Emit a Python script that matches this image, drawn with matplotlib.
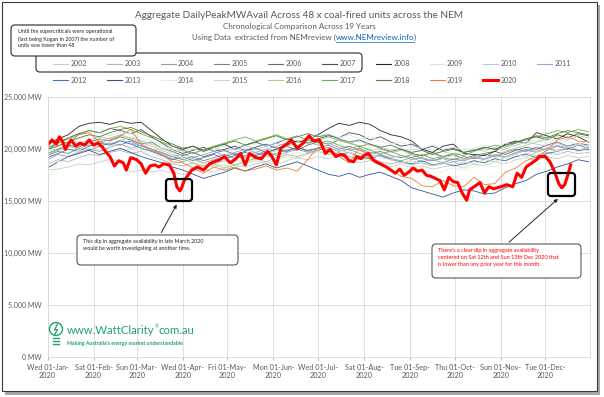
import numpy as np
import pandas as pd
import matplotlib
matplotlib.use('Agg')
import matplotlib.pyplot as plt
from matplotlib.patches import FancyBboxPatch, Rectangle, Circle, FancyArrowPatch
from matplotlib.lines import Line2D
from matplotlib.transforms import Affine2D

plt.rcParams['font.family'] = ['Lato', 'DejaVu Sans']

W, H = 604, 397

# weekly samples from 01-Jan, values in hundreds of MW
s2002 = [180, 181, 183, 186, 185, 188, 190, 189, 178, 180, 178, 180, 177, 176, 179, 181, 178, 182, 185, 183,
         186, 188, 185, 189, 192, 190, 193, 191, 194, 190, 187, 189, 185, 183, 186, 182, 184, 181, 183, 185,
         182, 186, 184, 188, 186, 190, 192, 189, 193, 191, 194, 192, 193]
s2003 = [186, 190, 188, 192, 195, 194, 197, 199, 196, 198, 193, 190, 186, 184, 187, 183, 186, 189, 185, 188,
         191, 188, 192, 195, 193, 196, 198, 195, 197, 193, 190, 192, 188, 186, 188, 185, 187, 184, 186, 188,
         185, 189, 187, 191, 189, 193, 196, 194, 197, 195, 198, 196, 197]
s2004 = [190, 195, 193, 197, 200, 198, 202, 205, 201, 204, 199, 195, 191, 188, 191, 187, 190, 193, 196, 192,
         195, 198, 194, 197, 200, 197, 199, 202, 198, 200, 196, 193, 195, 191, 189, 192, 188, 190, 187, 191,
         189, 192, 190, 194, 192, 196, 199, 197, 201, 198, 202, 199, 200]
s2005 = [194, 198, 196, 201, 199, 203, 206, 204, 208, 203, 200, 197, 193, 190, 193, 189, 192, 195, 191, 194,
         197, 193, 196, 199, 202, 198, 201, 204, 200, 203, 199, 196, 198, 194, 192, 195, 191, 189, 192, 190,
         193, 191, 195, 193, 197, 200, 198, 202, 199, 203, 200, 204, 201]
s2006 = [196, 200, 204, 202, 207, 210, 208, 212, 209, 205, 207, 201, 198, 194, 197, 193, 196, 199, 195, 198,
         201, 197, 200, 203, 199, 204, 207, 205, 209, 206, 203, 205, 201, 198, 200, 196, 194, 197, 193, 195,
         191, 194, 196, 198, 195, 199, 202, 200, 204, 207, 203, 206, 204]
s2007 = [200, 206, 211, 215, 218, 216, 220, 218, 215, 219, 212, 206, 200, 196, 199, 202, 198, 200, 203, 199,
         202, 205, 201, 204, 208, 206, 210, 213, 211, 216, 214, 209, 212, 207, 203, 205, 200, 203, 199, 201,
         197, 199, 202, 200, 204, 206, 210, 212, 209, 214, 211, 215, 213]
s2008 = [205, 210, 214, 222, 225, 226, 224, 227, 225, 226, 218, 210, 203, 200, 203, 198, 202, 205, 200, 204,
         207, 203, 206, 210, 207, 209, 214, 220, 225, 223, 226, 224, 218, 214, 212, 208, 200, 197, 203, 205,
         196, 195, 194, 198, 205, 208, 206, 216, 213, 210, 215, 212, 207]
s2009 = [205, 208, 212, 210, 214, 216, 213, 217, 215, 211, 208, 204, 200, 198, 201, 197, 200, 203, 199, 202,
         206, 203, 207, 210, 212, 209, 213, 215, 211, 214, 210, 212, 208, 205, 207, 203, 201, 204, 200, 202,
         199, 201, 204, 202, 206, 203, 207, 209, 206, 210, 207, 205, 208]
s2010 = [200, 204, 207, 205, 209, 212, 210, 214, 211, 208, 205, 201, 197, 199, 196, 199, 202, 198, 201, 204,
         200, 203, 206, 203, 207, 211, 209, 212, 209, 206, 208, 204, 202, 199, 201, 197, 199, 196, 198, 195,
         197, 200, 198, 202, 200, 204, 207, 205, 203, 206, 202, 205, 203]
s2011 = [196, 199, 202, 206, 203, 207, 205, 209, 206, 203, 200, 196, 193, 195, 192, 195, 198, 194, 197, 200,
         197, 200, 203, 206, 203, 207, 204, 206, 202, 199, 201, 197, 195, 192, 194, 190, 192, 189, 191, 188,
         190, 193, 191, 195, 193, 197, 200, 198, 201, 204, 201, 199, 202]
s2012 = [192, 196, 200, 198, 203, 206, 204, 208, 205, 201, 198, 194, 190, 193, 189, 192, 195, 191, 194, 197,
         194, 197, 200, 198, 202, 199, 201, 198, 195, 197, 193, 191, 194, 190, 188, 186, 189, 185, 187, 184,
         186, 189, 187, 191, 189, 193, 195, 192, 196, 198, 201, 199, 200]
s2013 = [182, 188, 193, 196, 199, 195, 198, 201, 197, 193, 190, 187, 183, 180, 176, 172, 175, 178, 182, 179,
         183, 186, 182, 185, 188, 184, 180, 176, 174, 177, 173, 176, 178, 174, 170, 163, 160, 157, 154, 158,
         161, 160, 157, 158, 163, 167, 170, 176, 179, 183, 186, 190, 188]
s2014 = [170, 188, 195, 198, 201, 199, 203, 206, 202, 199, 196, 192, 188, 186, 183, 187, 184, 188, 191, 187,
         190, 193, 190, 194, 197, 195, 198, 196, 193, 195, 191, 189, 186, 184, 181, 178, 180, 177, 179, 182,
         180, 183, 185, 183, 187, 189, 192, 190, 194, 197, 195, 198, 196]
s2015 = [198, 201, 204, 207, 205, 209, 211, 208, 212, 209, 205, 201, 197, 193, 190, 186, 183, 185, 182, 186,
         189, 186, 190, 193, 191, 195, 198, 196, 199, 197, 194, 196, 192, 190, 187, 189, 186, 184, 187, 185,
         188, 186, 190, 188, 192, 195, 193, 197, 200, 198, 202, 200, 199]
s2016 = [195, 199, 203, 200, 205, 208, 211, 214, 210, 207, 203, 199, 195, 191, 187, 184, 186, 182, 185, 188,
         192, 195, 199, 203, 207, 205, 209, 212, 208, 206, 203, 205, 200, 197, 199, 195, 193, 196, 192, 194,
         191, 193, 196, 194, 198, 201, 204, 207, 210, 212, 209, 213, 211]
s2017 = [202, 206, 210, 214, 218, 216, 220, 222, 219, 215, 211, 207, 203, 199, 196, 200, 203, 206, 209, 212,
         208, 211, 214, 210, 213, 209, 206, 208, 204, 201, 203, 199, 196, 198, 194, 192, 195, 191, 193, 196,
         194, 198, 201, 204, 202, 206, 209, 212, 215, 218, 216, 219, 217]
s2018 = [200, 203, 207, 211, 214, 212, 216, 219, 221, 217, 213, 209, 205, 201, 203, 199, 202, 205, 208, 204,
         207, 210, 213, 209, 212, 215, 212, 214, 210, 207, 209, 205, 202, 204, 200, 197, 199, 195, 198, 200,
         197, 199, 202, 200, 204, 207, 210, 213, 211, 215, 218, 216, 214]
s2019 = [205, 208, 206, 214, 216, 207, 209, 213, 219, 205, 200, 195, 188, 187, 182, 177, 183, 180, 183, 179,
         181, 184, 180, 182, 179, 190, 202, 200, 193, 187, 202, 190, 185, 180, 174, 172, 165, 164, 170, 165,
         164, 173, 166, 167, 178, 182, 189, 193, 199, 209, 212, 208, 207]

# 2020 - day of year and hundreds of MW
red_day = [0, 3, 6, 8, 10, 12, 14, 16, 19, 22, 25, 28, 31, 34, 37, 39, 42, 45, 48, 51,
           53, 56, 60, 63, 66, 69, 72, 75, 78, 82, 85, 87, 89, 90, 92, 95, 97, 101, 105, 109,
           112, 116, 119, 123, 126, 130, 133, 136, 140, 144, 148, 151, 154, 157, 161, 164, 168, 172, 176, 179,
           183, 187, 190, 194, 197, 200, 203, 206, 208, 211, 213, 216, 219, 221, 224, 228, 231, 234, 237, 240,
           243, 246, 249, 252, 255, 258, 261, 264, 267, 270, 273, 276, 279, 282, 284, 287, 291, 294, 297, 300,
           305, 309, 313, 316, 319, 322, 326, 329, 331, 335, 338, 341, 344, 346, 348, 350, 352]
red_mw = [204, 209, 205, 212, 208, 200, 205, 209, 203, 206, 204, 209, 204, 206, 202, 198, 193, 184, 189, 187,
          180, 192, 190, 186, 177, 184, 185, 183, 186, 185, 177, 164, 160, 162, 170, 176, 180, 183, 180, 186,
          188, 190, 193, 187, 190, 196, 185, 196, 192, 191, 198, 193, 185, 201, 205, 209, 201, 206, 213, 208,
          209, 196, 200, 193, 195, 194, 189, 188, 193, 191, 194, 196, 190, 188, 186, 183, 180, 177, 181, 175,
          178, 182, 179, 180, 175, 174, 172, 170, 161, 173, 169, 168, 158, 151, 161, 164, 168, 158, 164, 162,
          164, 166, 164, 177, 173, 183, 187, 190, 193, 193, 188, 179, 167, 163, 166, 175, 185]

years = list(range(2002, 2021))
series = [s2002, s2003, s2004, s2005, s2006, s2007, s2008, s2009, s2010, s2011,
          s2012, s2013, s2014, s2015, s2016, s2017, s2018, s2019]
colours = ['#cbcbcb', '#b3b3b3', '#9a9a9a', '#828282', '#696969', '#4d4d4d', '#262626',
           '#dae3f3', '#b4c7e7', '#8faadc', '#4472c4', '#2f5597',
           '#e2f0d9', '#c5e0b4', '#a9d18e', '#70ad47', '#548235', '#ed7d31', '#ff0000']

grey = '#595959'
start = pd.Timestamp('2020-01-01')

fig = plt.figure(figsize=(W / 100, H / 100), dpi=100)
# pixel coords, y downwards
tpx = Affine2D().scale(1 / W, -1 / H).translate(0, 1) + fig.transFigure

# frame with drop shadow
fig.add_artist(Rectangle((5, 5), 595, 390, transform=tpx, facecolor='#a6a6a6',
                         edgecolor='none', zorder=-11))
fig.add_artist(Rectangle((2, 2), 595, 389, transform=tpx, facecolor='white',
                         edgecolor='#3a3a3a', lw=0.8, zorder=-10))

ax = fig.add_axes([47.5 / W, 1 - 357.3 / H, (590 - 47.5) / W, (357.3 - 97.3) / H])
ax.set_facecolor('white')

for yr, vals, c in zip(years[:-1], series, colours[:-1]):
    dates = start + pd.to_timedelta(7 * np.arange(len(vals)), unit='D')
    ax.plot(dates, np.array(vals) * 100, color=c, lw=0.6)

red_dates = start + pd.to_timedelta(red_day, unit='D')
ax.plot(red_dates, np.array(red_mw) * 100, color=colours[-1], lw=2.2, solid_joinstyle='round')

months = pd.date_range('2020-01-01', '2020-12-01', freq='MS')
ax.set_xticks(months)
ax.set_xticklabels([m.strftime('%a %d-%b-\n%Y') for m in months], fontsize=5.2, color=grey,
                   linespacing=1.25)
ax.set_xlim(start, pd.Timestamp('2020-12-31'))
yt = np.arange(0, 25001, 5000)
ax.set_yticks(yt)
ax.set_yticklabels([f'{v:,} MW' for v in yt], fontsize=5.0, color=grey)
ax.set_ylim(0, 25000)
ax.grid(True, color='#d9d9d9', lw=0.6)
ax.set_axisbelow(True)
ax.tick_params(axis='y', length=0, pad=4)
ax.tick_params(axis='x', length=2.5, color='#bfbfbf', pad=2)
for sp in ax.spines.values():
    sp.set_color('#d9d9d9')
    sp.set_linewidth(0.6)

# titles
fig.text(299 / W, 1 - 15 / H, 'Aggregate DailyPeakMWAvail Across 48 x coal-fired units across the NEM',
         ha='center', va='center', fontsize=7.2, color=grey)
fig.text(299 / W, 1 - 26.5 / H, 'Chronological Comparison Across 19 Years',
         ha='center', va='center', fontsize=5.8, color=grey)
parts = ['Using Data  extracted from NEMreview (', 'www.NEMreview.info', ')']
pcols = [grey, '#0563c1', grey]
r = fig.canvas.get_renderer()
widths = []
for p in parts:
    t = fig.text(0, 0, p, fontsize=5.8)
    widths.append(t.get_window_extent(r).width)
    t.remove()
x = 304 - sum(widths) / 2
for p, c, w in zip(parts, pcols, widths):
    fig.text(x / W, 1 - 37.5 / H, p, ha='left', va='center', fontsize=5.8, color=c)
    if p.startswith('www'):
        fig.add_artist(Line2D([x, x + w], [41.5, 41.5], transform=tpx, color=c, lw=0.5))
    x += w

# legend
fig.add_artist(FancyBboxPatch((36, 53), 326, 19, boxstyle='round,pad=0,rounding_size=4',
                              transform=tpx, facecolor='none', edgecolor='#404040', lw=0.9, zorder=5))
for i, (yr, c) in enumerate(zip(years, colours)):
    x0 = 53 + (i % 10) * 53.8
    y0 = 64 + (i // 10) * 16.3
    fig.add_artist(Line2D([x0, x0 + 15], [y0, y0], transform=tpx, color=c,
                          lw=2.2 if yr == 2020 else 0.8))
    fig.text((x0 + 17.5) / W, 1 - y0 / H, str(yr), ha='left', va='center', fontsize=5, color=grey)

# note about supercriticals
fig.add_artist(FancyBboxPatch((11, 25), 125, 31, boxstyle='round,pad=0,rounding_size=4',
                              transform=tpx, facecolor='white', edgecolor='#404040', lw=0.9, zorder=6))
fig.text(18 / W, 1 - 29 / H, 'Until the supercriticals were operational\n(last being Kogan in 2007) the number of\n'
         'units was lower than 48', ha='left', va='top', fontsize=3.9, color='#262626',
         linespacing=1.45, zorder=7)

# V boxes round the dips
for bx, by, bw, bh in [(166, 179, 26, 22), (548, 173, 27, 23)]:
    fig.add_artist(FancyBboxPatch((bx, by), bw, bh, boxstyle='round,pad=0,rounding_size=3',
                                  transform=tpx, facecolor='none', edgecolor='black', lw=1.6, zorder=6))

# march note
fig.add_artist(FancyBboxPatch((77, 235), 161, 30, boxstyle='round,pad=0,rounding_size=4',
                              transform=tpx, facecolor='white', edgecolor='#595959', lw=0.8, zorder=6))
fig.text(83 / W, 1 - 239 / H, 'This dip in aggregate availability in late March 2020\n'
         'would be worth investigating at another time.', ha='left', va='top', fontsize=3.9,
         color='#262626', linespacing=1.5, zorder=7)
fig.add_artist(FancyArrowPatch((160, 235), (178, 202), transform=tpx, arrowstyle='-|>',
                               mutation_scale=5, color='#262626', lw=0.7, zorder=6))

# december note
fig.add_artist(FancyBboxPatch((432, 244), 149, 34, boxstyle='round,pad=0,rounding_size=4',
                              transform=tpx, facecolor='white', edgecolor='#595959', lw=0.8, zorder=6))
fig.text(438 / W, 1 - 248 / H, "There's a clear dip in aggregate availability\n"
         'centered on Sat 12th and Sun 13th Dec 2020 that\nis lower than any prior year for this month.',
         ha='left', va='top', fontsize=4.0, color='#ff0000', linespacing=1.5, zorder=7)
fig.add_artist(FancyArrowPatch((507, 244), (560, 197), transform=tpx, arrowstyle='-|>',
                               mutation_scale=5, color='#262626', lw=0.7, zorder=6))

# logo
green = '#1fa36f'
fig.add_artist(Circle((56, 329), 6.5, transform=tpx, facecolor='none', edgecolor=green, lw=1.0, zorder=6))
fig.add_artist(Line2D([57.5, 54.5, 57.5, 54.5], [324, 330, 329.5, 335], transform=tpx,
                      color=green, lw=0.9, zorder=6))
for yy in [338, 341, 344]:
    fig.add_artist(Line2D([53, 59], [yy, yy], transform=tpx, color=green, lw=1.0, zorder=6))
fig.text(67 / W, 1 - 331 / H, 'www.WattClarity', ha='left', va='center', fontsize=8.2,
         color=green, zorder=6)
t = fig.texts[-1]
wx = t.get_window_extent(r).width
fig.text((67 + wx) / W, 1 - 327 / H, '®', ha='left', va='center', fontsize=3.5, color=green, zorder=6)
fig.text((67 + wx + 3.5) / W, 1 - 331 / H, 'com.au', ha='left', va='center', fontsize=8.2,
         color=green, zorder=6)
fig.text(67 / W, 1 - 343 / H, "Making Australia's energy market understandable", ha='left', va='center',
         fontsize=3.8, color=green, fontweight='bold', zorder=6)

fig.savefig('out.png', dpi=100, facecolor='white')
